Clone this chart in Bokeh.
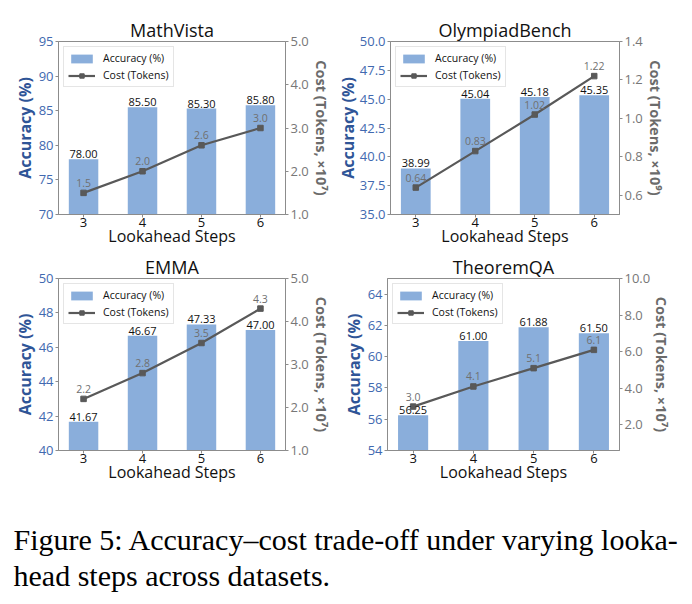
from bokeh.plotting import figure
from bokeh.models import (Range1d, LinearAxis, FixedTicker, PrintfTickFormatter,
                          Legend, LegendItem, Label)
from bokeh.layouts import column, row
from bokeh.core.properties import value
from bokeh.embed import file_html
from bokeh.resources import INLINE

# ---- data -------------------------------------------------------------
steps = [3, 4, 5, 6]

mathvista_acc = [78.00, 85.50, 85.30, 85.80]
mathvista_cost = [1.5, 2.0, 2.6, 3.0]          # x10^7 tokens
olympiad_acc = [38.99, 45.04, 45.18, 45.35]
olympiad_cost = [0.64, 0.83, 1.02, 1.22]       # x10^9 tokens
emma_acc = [41.67, 46.67, 47.33, 47.00]
emma_cost = [2.2, 2.8, 3.5, 4.3]               # x10^7 tokens
theorem_acc = [56.25, 61.00, 61.88, 61.50]
theorem_cost = [3.0, 4.1, 5.1, 6.1]            # x10^7 tokens

mathvista_acc_ticks = [70, 75, 80, 85, 90, 95]
mathvista_cost_ticks = [1.0, 2.0, 3.0, 4.0, 5.0]
olympiad_acc_ticks = [35.0, 37.5, 40.0, 42.5, 45.0, 47.5, 50.0]
olympiad_cost_ticks = [0.6, 0.8, 1.0, 1.2, 1.4]
emma_acc_ticks = [40, 42, 44, 46, 48, 50]
emma_cost_ticks = [1.0, 2.0, 3.0, 4.0, 5.0]
theorem_acc_ticks = [54, 56, 58, 60, 62, 64]
theorem_cost_ticks = [2.0, 4.0, 6.0, 8.0, 10.0]

caption_lines = ["Figure 5: Accuracy\u2013cost trade-off under varying looka-",
                 "head steps across datasets."]

# ---- styling ----------------------------------------------------------
FONT = "Open Sans"
BAR = "#8aaedb"
ACC_TICK = "#4169b0"
ACC_LABEL = "#2f5597"
COST_TICK = "#777777"
COST_LABEL = "#6b6b6b"
LINE = "#595959"
COST_TEXT = "#707070"
SPINE = "#8c8c8c"
X_RANGE = (2.575, 6.425)


def make_panel(title, acc, cost, acc_range, acc_ticks, acc_fmt,
               cost_range, cost_ticks, cost_fmt, cost_val_fmt, exponent,
               width, height, borders, acc_lab_gap, cost_lab_gap):
    left, right, top, bottom = borders
    p = figure(width=width, height=height, output_backend="svg",
               toolbar_location=None,
               x_range=Range1d(*X_RANGE), y_range=Range1d(*acc_range),
               min_border_left=left, min_border_right=right,
               min_border_top=top, min_border_bottom=bottom)
    p.extra_y_ranges = {"cost": Range1d(*cost_range)}
    p.grid.visible = False
    p.outline_line_color = SPINE
    p.outline_line_width = 1

    p.title.text = title
    p.title.align = "center"
    p.title.text_font = FONT
    p.title.text_font_size = "18px"
    p.title.text_font_style = "normal"
    p.title.text_color = "#111111"
    p.title.standoff = 0

    def style_axis(ax, color):
        ax.axis_line_color = SPINE
        ax.major_tick_line_color = SPINE
        ax.major_tick_out = 3
        ax.major_tick_in = 0
        ax.minor_tick_line_color = None
        ax.major_label_text_font = FONT
        ax.major_label_text_font_size = "13px"
        ax.major_label_text_color = color
        ax.major_label_standoff = 2
        ax.axis_label_text_font = FONT

    xa = p.xaxis[0]
    xa.ticker = FixedTicker(ticks=steps)
    style_axis(xa, "#111111")
    xa.major_label_standoff = 0
    xa.axis_label = "Lookahead Steps"
    xa.axis_label_text_font_size = "16px"
    xa.axis_label_text_font_style = "normal"
    xa.axis_label_text_color = "#111111"
    xa.axis_label_standoff = -5

    ya = p.yaxis[0]
    ya.ticker = FixedTicker(ticks=acc_ticks)
    ya.formatter = PrintfTickFormatter(format=acc_fmt)
    style_axis(ya, ACC_TICK)
    ya.axis_label = "Accuracy (%)"
    ya.axis_label_text_font_size = "16px"
    ya.axis_label_text_font_style = "bold"
    ya.axis_label_text_color = ACC_LABEL
    ya.axis_label_standoff = acc_lab_gap

    ra = LinearAxis(y_range_name="cost", ticker=FixedTicker(ticks=cost_ticks),
                    formatter=PrintfTickFormatter(format=cost_fmt))
    style_axis(ra, COST_TICK)
    ra.axis_label = f"Cost (Tokens, \u00d710{exponent})"
    ra.axis_label_text_font_size = "14.5px"
    ra.axis_label_text_font_style = "bold"
    ra.axis_label_text_color = COST_LABEL
    ra.axis_label_standoff = cost_lab_gap
    p.add_layout(ra, "right")

    bars = p.vbar(x=steps, top=acc, bottom=0, width=0.5,
                  fill_color=BAR, line_color=None)
    line = p.line(x=steps, y=cost, y_range_name="cost",
                  line_color=LINE, line_width=2.2)
    pts = p.scatter(x=steps, y=cost, y_range_name="cost", marker="square",
                    size=5.5, fill_color=LINE, line_color=LINE)

    # value labels: negative y_offset lifts the text above the anchor
    p.text(x=steps, y=acc, text=[f"{v:.2f}" for v in acc],
           text_font=value(FONT), text_font_size="11px", text_color="#111111",
           text_align="center", text_baseline="alphabetic", y_offset=-5)
    p.text(x=steps, y=cost, y_range_name="cost",
           text=[cost_val_fmt % v for v in cost],
           text_font=value(FONT), text_font_size="10.5px", text_color=COST_TEXT,
           text_align="center", text_baseline="alphabetic", y_offset=-10)

    legend = Legend(items=[LegendItem(label="Accuracy (%)", renderers=[bars]),
                           LegendItem(label="Cost (Tokens)", renderers=[line, pts])],
                    location="top_left")
    legend.label_text_font = FONT
    legend.label_text_font_size = "10.5px"
    legend.label_text_color = "#111111"
    legend.border_line_color = "#cccccc"
    legend.border_line_width = 1
    legend.background_fill_alpha = 0.9
    legend.margin = 5
    legend.padding = 4
    legend.spacing = 3
    legend.glyph_width = 27
    legend.glyph_height = 11
    legend.label_standoff = 8
    p.add_layout(legend)
    return p


p1 = make_panel("MathVista", mathvista_acc, mathvista_cost, (70, 95),
                mathvista_acc_ticks, "%d", (1.0, 5.0), mathvista_cost_ticks,
                "%.1f", "%.1f", "\u2077", 333, 252, (58, 43, 41, 38), 0, 0)
p2 = make_panel("OlympiadBench", olympiad_acc, olympiad_cost, (35, 50),
                olympiad_acc_ticks, "%.1f", (0.5, 1.4), olympiad_cost_ticks,
                "%.1f", "%.2f", "\u2079", 359, 252, (54, 73, 41, 38), -2, 0)
p3 = make_panel("EMMA", emma_acc, emma_cost, (40, 50),
                emma_acc_ticks, "%d", (1.0, 5.0), emma_cost_ticks,
                "%.1f", "%.1f", "\u2077", 333, 238, (58, 43, 24, 40), 0, 0)
p4 = make_panel("TheoremQA", theorem_acc, theorem_cost, (54, 65),
                theorem_acc_ticks, "%d", (0.6, 10.0), theorem_cost_ticks,
                "%.1f", "%.1f", "\u2077", 359, 238, (54, 73, 24, 40), 0, -1)

# ---- caption ------------------------------------------------------------
cap = figure(width=692, height=114, output_backend="svg", toolbar_location=None,
             x_range=Range1d(0, 1), y_range=Range1d(0, 1),
             x_axis_location=None, y_axis_location=None, min_border=0)
cap.outline_line_color = None
cap.grid.visible = False
for i, line_text in enumerate(caption_lines):
    cap.add_layout(Label(x=13, x_units="screen", y=65 - 36 * i, y_units="screen",
                         text=line_text, text_font="Liberation Serif",
                         text_font_size="30px", text_color="#000000",
                         text_align="left", text_baseline="alphabetic"))

layout = column(row(p1, p2), row(p3, p4), cap)

with open("out.html", "w") as f:
    f.write(file_html(layout, INLINE))
